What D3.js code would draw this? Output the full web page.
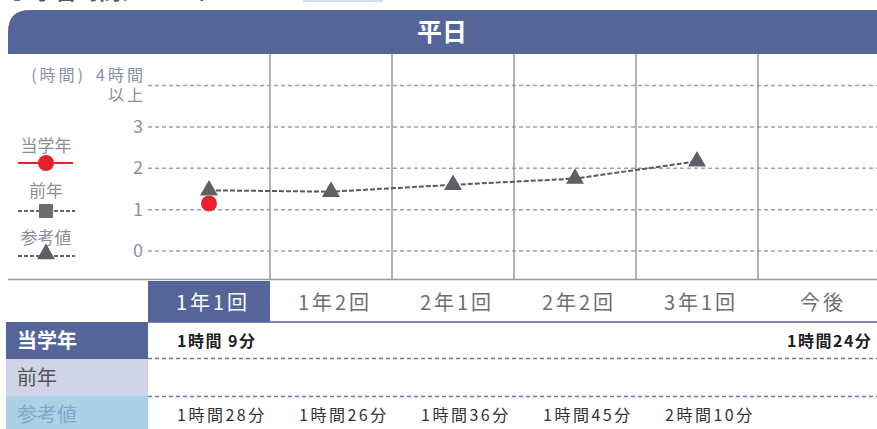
<!DOCTYPE html>
<html>
<head>
<meta charset="utf-8">
<script src="https://cdn.jsdelivr.net/npm/d3@7"></script>
<style>
  html, body { margin: 0; padding: 0; background: #fff; }
  svg { display: block; font-family: "Noto Sans CJK JP", "Noto Sans", sans-serif; }
</style>
</head>
<body>
<div id="chart"></div>
<script>
// columns (testing periods)
var periods = ['1年1回', '1年2回', '2年1回', '2年2回', '3年1回', '今後'];
// minutes per weekday, null = no value
var currentMinutes = [69, null, null, null, null, 84];   // 当学年
var prevMinutes = [null, null, null, null, null, null];  // 前年
var refMinutes = [88, 86, 96, 105, 130, null];           // 参考値
var yTicks = [0, 1, 2, 3, 4];
var rowLabels = ['当学年', '前年', '参考値'];

var blue = '#55659a';

var svg = d3.select('#chart').append('svg')
  .attr('width', 877)
  .attr('height', 429);

// scales
var x = d3.scaleBand().domain(periods).range([148, 880]);
var y = d3.scaleLinear().domain([0, 4]).range([251, 85.5]);
var cx = function(p) { return x(p) + x.bandwidth() / 2; };

function fmt(m) {
  var h = Math.floor(m / 60), mm = m % 60;
  return h + '時間' + (mm < 10 ? ' ' + mm : mm) + '分';
}

// heading above, mostly outside the picture
svg.append('rect')
  .attr('x', 303).attr('y', -10).attr('width', 80).attr('height', 12)
  .attr('fill', '#cfe2f4');
svg.append('text')
  .attr('x', 6).attr('y', -1)
  .attr('font-size', 22).attr('font-weight', 'bold').attr('fill', '#555')
  .text('● 学習時間について');

// header bar
svg.append('path')
  .attr('d', 'M8,54 L8,32 Q8,10 30,10 L880,10 L880,54 Z')
  .attr('fill', blue);
svg.append('text')
  .attr('x', 442).attr('y', 41)
  .attr('text-anchor', 'middle')
  .attr('font-size', 25).attr('font-weight', 'bold').attr('fill', '#fff')
  .text('平日');

// horizontal dotted gridlines
svg.append('g').selectAll('line')
  .data(yTicks)
  .enter().append('line')
  .attr('x1', 148).attr('x2', 877)
  .attr('y1', function(d) { return y(d); })
  .attr('y2', function(d) { return y(d); })
  .attr('stroke', '#a0a0a0')
  .attr('stroke-width', 1.5)
  .attr('stroke-dasharray', '4,3');

// vertical column separators
svg.append('g').selectAll('line')
  .data(periods.slice(1))
  .enter().append('line')
  .attr('x1', function(d) { return x(d); })
  .attr('x2', function(d) { return x(d); })
  .attr('y1', 54).attr('y2', 279)
  .attr('stroke', '#9a9a9a')
  .attr('stroke-width', 1.5);

// bottom line of plot
svg.append('line')
  .attr('x1', 8).attr('x2', 877).attr('y1', 279.5).attr('y2', 279.5)
  .attr('stroke', '#9a9a9a').attr('stroke-width', 1.5);

// y labels
var tickColor = '#8790a8';
var ylab = svg.append('g').attr('fill', tickColor).attr('text-anchor', 'end');
yTicks.filter(function(d) { return d < 4; }).forEach(function(d) {
  ylab.append('text').attr('x', 143).attr('y', y(d) + 6).attr('font-size', 18).text(d);
});
ylab.append('text').attr('x', 146).attr('y', y(4) - 5).attr('font-size', 16)
  .attr('letter-spacing', 3).text('4時間');
ylab.append('text').attr('x', 146).attr('y', y(4) + 15).attr('font-size', 16)
  .attr('letter-spacing', 3).text('以上');
ylab.append('text').attr('x', 86).attr('y', y(4) - 5).attr('font-size', 16)
  .attr('letter-spacing', 3).text('(時間)');

// reference line (参考値)
var refPts = periods.map(function(p, i) { return {p: p, v: refMinutes[i]}; })
  .filter(function(d) { return d.v != null; });
var line = d3.line()
  .x(function(d) { return cx(d.p); })
  .y(function(d) { return y(d.v / 60); });
svg.append('path')
  .datum(refPts)
  .attr('d', line)
  .attr('fill', 'none')
  .attr('stroke', '#555a63')
  .attr('stroke-width', 2)
  .attr('stroke-dasharray', '5,2');
var tri = d3.symbol().type(d3.symbolTriangle).size(140);
svg.append('g').selectAll('path')
  .data(refPts)
  .enter().append('path')
  .attr('d', tri)
  .attr('transform', function(d) { return 'translate(' + cx(d.p) + ',' + y(d.v / 60) + ')'; })
  .attr('fill', '#5d6068');

// current year (当学年) points, not for 今後
var curPts = periods.map(function(p, i) { return {p: p, v: currentMinutes[i]}; })
  .filter(function(d) { return d.v != null && d.p !== '今後'; });
svg.append('path')
  .datum(curPts)
  .attr('d', line)
  .attr('fill', 'none')
  .attr('stroke', '#e8202a')
  .attr('stroke-width', 2);
svg.append('g').selectAll('circle')
  .data(curPts)
  .enter().append('circle')
  .attr('cx', function(d) { return cx(d.p); })
  .attr('cy', function(d) { return y(d.v / 60); })
  .attr('r', 8)
  .attr('fill', '#e8202a');

// legend
var leg = svg.append('g').attr('font-size', 17).attr('fill', '#8a8f9c').attr('text-anchor', 'middle');
leg.append('text').attr('x', 46).attr('y', 152).text('当学年');
leg.append('line').attr('x1', 18).attr('x2', 73).attr('y1', 163).attr('y2', 163)
  .attr('stroke', '#e8202a').attr('stroke-width', 2);
leg.append('circle').attr('cx', 46).attr('cy', 163).attr('r', 8).attr('fill', '#e8202a');
leg.append('text').attr('x', 46).attr('y', 197).text('前年');
leg.append('line').attr('x1', 18).attr('x2', 75).attr('y1', 211).attr('y2', 211)
  .attr('stroke', '#666').attr('stroke-width', 2).attr('stroke-dasharray', '4,2');
leg.append('rect').attr('x', 39).attr('y', 204).attr('width', 14).attr('height', 14).attr('fill', '#6b6d73');
leg.append('text').attr('x', 46).attr('y', 244).text('参考値');
leg.append('line').attr('x1', 18).attr('x2', 75).attr('y1', 256).attr('y2', 256)
  .attr('stroke', '#666').attr('stroke-width', 2).attr('stroke-dasharray', '4,2');
leg.append('path').attr('d', tri).attr('transform', 'translate(46,254)').attr('fill', '#5d6068');

// table header row
svg.append('rect')
  .attr('x', x(periods[0])).attr('y', 281)
  .attr('width', x.bandwidth()).attr('height', 41)
  .attr('fill', blue);
svg.append('g').selectAll('text')
  .data(periods)
  .enter().append('text')
  .attr('x', function(d) { return cx(d) + 4; })
  .attr('y', 310)
  .attr('text-anchor', 'middle')
  .attr('font-size', 20)
  .attr('letter-spacing', 3)
  .attr('fill', function(d, i) { return i === 0 ? '#fff' : '#6e6e6e'; })
  .text(function(d) { return d; });
svg.append('line')
  .attr('x1', 148).attr('x2', 877).attr('y1', 322).attr('y2', 322)
  .attr('stroke', blue).attr('stroke-width', 1.5);

// row label cells
var rowTop = [322, 359, 396];
var rowH = [37, 37, 33];
var rowFill = [blue, '#d0d4e6', '#acd0e6'];
var rowText = ['#fff', '#555', '#7fa8cb'];
rowLabels.forEach(function(r, i) {
  svg.append('rect')
    .attr('x', 6).attr('y', rowTop[i])
    .attr('width', 142).attr('height', rowH[i])
    .attr('fill', rowFill[i]);
  svg.append('text')
    .attr('x', 17).attr('y', rowTop[i] + 26)
    .attr('font-size', 20).attr('font-weight', i === 0 ? 'bold' : 'normal')
    .attr('fill', rowText[i])
    .text(r);
});

// dashed row separators
svg.append('g').selectAll('line')
  .data([358.5, 396.5])
  .enter().append('line')
  .attr('x1', 148).attr('x2', 877)
  .attr('y1', function(d) { return d; }).attr('y2', function(d) { return d; })
  .attr('stroke', '#6a78a8').attr('stroke-width', 1.5)
  .attr('stroke-dasharray', '4,3');

// table values
var rows = [currentMinutes, prevMinutes, refMinutes];
rows.forEach(function(vals, r) {
  svg.append('g').selectAll('text')
    .data(periods.map(function(p, i) { return {p: p, v: vals[i]}; }).filter(function(d) { return d.v != null; }))
    .enter().append('text')
    .attr('x', function(d) { return x(d.p) + 29; })
    .attr('y', rowTop[r] + 25)
    .attr('font-size', 16)
    .attr('letter-spacing', r === 0 ? 1.5 : 2.5)
    .attr('font-weight', r === 0 ? 'bold' : 'normal')
    .attr('fill', r === 0 ? '#222' : '#333')
    .text(function(d) { return fmt(d.v); });
});
</script>
</body>
</html>
